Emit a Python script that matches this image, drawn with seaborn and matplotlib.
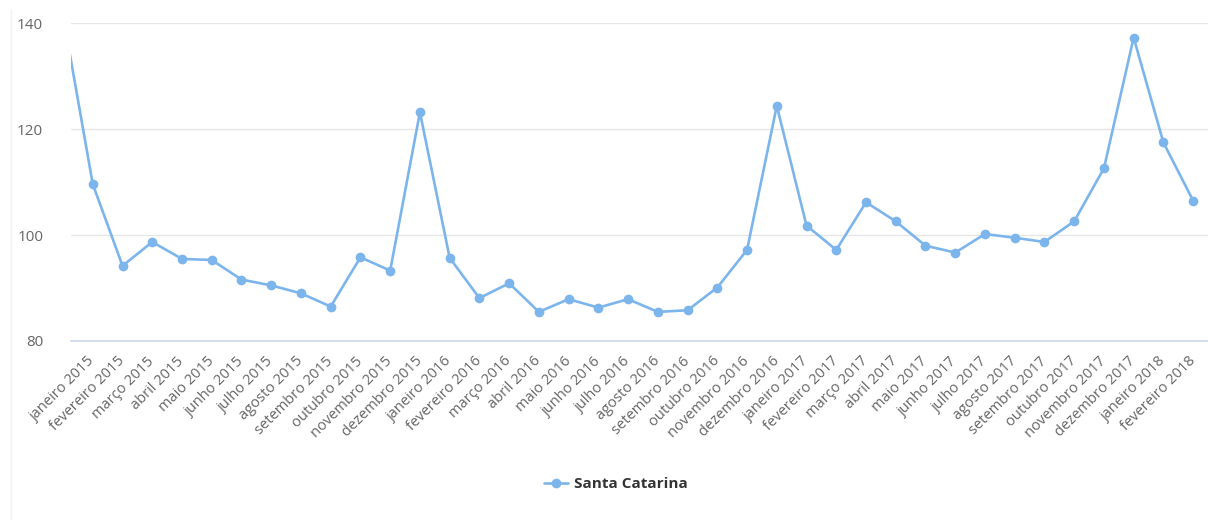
import pandas as pd
import matplotlib.pyplot as plt
import seaborn as sns
from matplotlib.lines import Line2D

# monthly index values, Santa Catarina (dezembro 2014 sits just outside the visible area)
months = ["dezembro 2014",
          "janeiro 2015", "fevereiro 2015", "março 2015", "abril 2015", "maio 2015",
          "junho 2015", "julho 2015", "agosto 2015", "setembro 2015", "outubro 2015",
          "novembro 2015", "dezembro 2015",
          "janeiro 2016", "fevereiro 2016", "março 2016", "abril 2016", "maio 2016",
          "junho 2016", "julho 2016", "agosto 2016", "setembro 2016", "outubro 2016",
          "novembro 2016", "dezembro 2016",
          "janeiro 2017", "fevereiro 2017", "março 2017", "abril 2017", "maio 2017",
          "junho 2017", "julho 2017", "agosto 2017", "setembro 2017", "outubro 2017",
          "novembro 2017", "dezembro 2017",
          "janeiro 2018", "fevereiro 2018"]
values = [141.5,
          109.6, 94.2, 98.7, 95.5, 95.3, 91.6, 90.5, 89.0, 86.5, 95.8, 93.3, 123.2,
          95.7, 88.1, 90.9, 85.5, 87.9, 86.3, 87.9, 85.5, 85.8, 90.1, 97.2, 124.4,
          101.8, 97.2, 106.2, 102.6, 98.0, 96.7, 100.2, 99.5, 98.7, 102.6, 112.6, 137.3,
          117.5, 106.5]
series_name = "Santa Catarina"

color = "#7cb5ec"
df = pd.DataFrame({"pos": range(-1, len(months) - 1), "mes": months, "valor": values})

sns.set_style("white")
plt.rcParams["font.family"] = ["Open Sans", "DejaVu Sans"]

fig = plt.figure(figsize=(12.08, 5.2), dpi=100)
ax = fig.add_axes([71 / 1208, 1 - 341 / 520, 1137 / 1208, (341 - 23.3) / 520])

sns.lineplot(data=df, x="pos", y="valor", ax=ax, color=color, linewidth=1.9,
             marker="o", markersize=7, markeredgewidth=0)

ax.set_xlim(-0.733, 37.17)
ax.set_ylim(80, 140)
ax.set_yticks([80, 100, 120, 140])
ax.grid(axis="y", color="#e6e6e6", linewidth=1)
ax.grid(axis="x", visible=False)
ax.set_xlabel("")
ax.set_ylabel("")

for side in ["top", "right", "left"]:
    ax.spines[side].set_visible(False)
ax.spines["bottom"].set_color("#ccd6eb")
ax.spines["bottom"].set_linewidth(1.2)

shown = df[df["pos"] >= 0]
ax.set_xticks(shown["pos"])
ax.set_xticklabels(shown["mes"], rotation=45, ha="right", va="center",
                   rotation_mode="anchor", fontsize=10.5, color="#666666")
ax.set_xticks([p + 0.5 for p in range(-1, len(months) - 1)], minor=True)
ax.tick_params(axis="x", which="major", length=0, pad=13)
ax.tick_params(axis="x", which="minor", length=8, width=1, color="#ccd6eb")
ax.tick_params(axis="y", length=0, pad=20, labelsize=11, labelcolor="#666666")

# faint card border on the left
fig.add_artist(Line2D([11 / 1208, 11 / 1208], [0, 1 - 10 / 520],
                      transform=fig.transFigure, color="#f2f2f2", linewidth=1))

handle = Line2D([], [], color=color, linewidth=1.9, marker="o", markersize=7,
                markeredgewidth=0)
fig.legend([handle], [series_name], loc="center", bbox_to_anchor=(616 / 1208, 1 - 484 / 520),
           frameon=False, handlelength=1.6, handletextpad=0.4,
           prop={"weight": "bold", "size": 11})
for t in fig.legends[0].get_texts():
    t.set_color("#333333")

fig.savefig("out.png", dpi=100)
